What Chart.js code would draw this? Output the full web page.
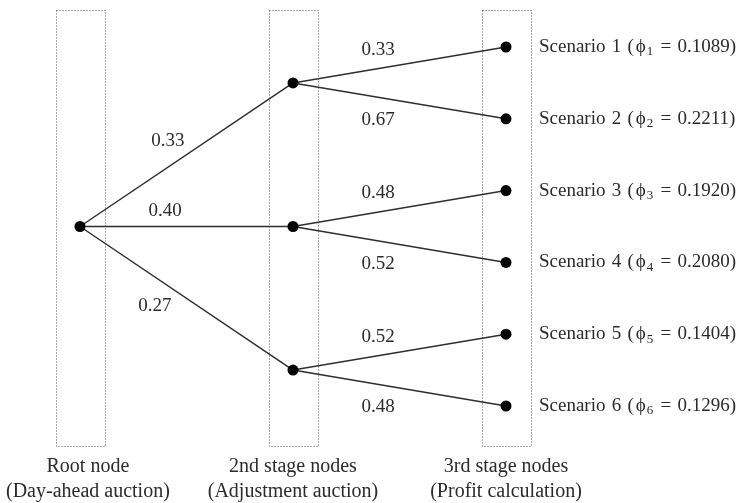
<!DOCTYPE html>
<html>
<head>
<meta charset="utf-8">
<script src="https://cdn.jsdelivr.net/npm/chart.js@4"></script>
<style>
  html, body { margin: 0; padding: 0; background: #ffffff; }
  #wrap { width: 743px; height: 503px; position: relative; }
</style>
</head>
<body>
<div id="wrap"><canvas id="c" width="743" height="503"></canvas></div>
<script>
// ---- Data ----
const stageTitles = ['Root node', '2nd stage nodes', '3rd stage nodes'];
const stageSubtitles = ['(Day-ahead auction)', '(Adjustment auction)', '(Profit calculation)'];
const rootBranchProbs = [0.33, 0.40, 0.27];
const secondBranchProbs = [[0.33, 0.67], [0.48, 0.52], [0.52, 0.48]];
const scenarioNames = ['Scenario 1', 'Scenario 2', 'Scenario 3', 'Scenario 4', 'Scenario 5', 'Scenario 6'];
const scenarioProbs = ['0.1089', '0.2211', '0.1920', '0.2080', '0.1404', '0.1296'];

// ---- Tree structure (stage index on x, slot on y) ----
const leaves = [];
const mids = [];
secondBranchProbs.forEach((kids, i) => {
  const idx = kids.map((_, j) => leaves.length + j);
  idx.forEach(k => leaves.push({ x: 2, y: k, parent: i }));
  mids.push({ x: 1, y: idx.reduce((a, b) => a + b, 0) / idx.length });
});
const root = { x: 0, y: mids.reduce((a, m) => a + m.y, 0) / mids.length };

const edges = [];
mids.forEach((m, i) => edges.push({ from: root, to: m, label: rootBranchProbs[i], level: 0, pos: i, n: mids.length }));
let li = 0;
secondBranchProbs.forEach((kids, i) => {
  kids.forEach((p, j) => { edges.push({ from: mids[i], to: leaves[li], label: p, level: 1, pos: j, n: kids.length }); li++; });
});

const lineColor = '#2e2e2e';
const textColor = '#2b2b2b';
const serif = '"Liberation Serif", "DejaVu Serif", serif';
const firstLabelT = [0.47, 0.40, 0.415];

const datasets = [];
datasets.push({
  label: 'nodes',
  data: [root, ...mids, ...leaves].map(p => ({ x: p.x, y: p.y })),
  showLine: false,
  pointRadius: 5.5,
  pointBackgroundColor: '#000',
  pointBorderColor: '#000',
  pointBorderWidth: 0,
  clip: false
});
edges.forEach(e => datasets.push({
  label: 'edge',
  data: [{ x: e.from.x, y: e.from.y }, { x: e.to.x, y: e.to.y }],
  showLine: true,
  borderColor: lineColor,
  borderWidth: 1.5,
  pointRadius: 0,
  clip: false
}));

const annot = {
  id: 'annot',
  beforeDatasetsDraw(chart) {
    const ctx = chart.ctx, xs = chart.scales.x, ys = chart.scales.y;
    const top = ys.getPixelForValue(0) - 37;
    const bottom = ys.getPixelForValue(leaves.length - 1) + 40;
    ctx.save();
    ctx.strokeStyle = '#555';
    ctx.lineWidth = 1;
    ctx.setLineDash([1, 2]);
    [0, 1, 2].forEach(s => {
      const cx = xs.getPixelForValue(s);
      ctx.strokeRect(Math.round(cx - 24.5) + 0.5, top + 0.5, 49, bottom - top);
    });
    ctx.restore();
  },
  afterDatasetsDraw(chart) {
    const ctx = chart.ctx, xs = chart.scales.x, ys = chart.scales.y;
    ctx.save();
    ctx.fillStyle = textColor;
    ctx.textBaseline = 'middle';
    ctx.textAlign = 'center';
    ctx.font = '19px ' + serif;
    // edge labels
    edges.forEach(e => {
      const x0 = xs.getPixelForValue(e.from.x), y0 = ys.getPixelForValue(e.from.y);
      const x1 = xs.getPixelForValue(e.to.x), y1 = ys.getPixelForValue(e.to.y);
      const txt = e.label.toFixed(2);
      if (e.level === 0) {
        const t = firstLabelT[e.pos];
        const bx = x0 + (x1 - x0) * t, by = y0 + (y1 - y0) * t;
        const dx = x1 - x0, dy = y1 - y0, L = Math.hypot(dx, dy);
        let nx, ny;
        const last = e.pos === e.n - 1;
        if (!last) { nx = dy / L; ny = -dx / L; } else { nx = -dy / L; ny = dx / L; }
        const d = Math.abs(dy) < 1 ? 15 : (last ? 24 : 22);
        ctx.fillText(txt, bx + nx * d, by + ny * d);
      } else {
        const t = 0.40;
        const bx = x0 + (x1 - x0) * t, by = y0 + (y1 - y0) * t;
        const off = e.pos === 0 ? -19 : 23;
        ctx.fillText(txt, bx, by + off);
      }
    });
    // scenario labels
    ctx.textAlign = 'left';
    leaves.forEach((lf, i) => {
      let x = xs.getPixelForValue(lf.x) + 33;
      const y = ys.getPixelForValue(lf.y);
      ctx.font = '19px ' + serif;
      ctx.wordSpacing = '1.5px';
      const a = scenarioNames[i] + ' (';
      ctx.fillText(a, x, y); x += ctx.measureText(a).width + 2;
      ctx.fillText('\u03D5', x, y); x += ctx.measureText('\u03D5').width + 1;
      ctx.font = '13px ' + serif;
      const sub = String(i + 1);
      ctx.fillText(sub, x, y + 5); x += ctx.measureText(sub).width + 1;
      ctx.font = '19px ' + serif;
      const b = ' = ' + scenarioProbs[i] + ')';
      ctx.fillText(b, x, y);
      ctx.wordSpacing = '0px';
    });
    // stage labels
    ctx.textAlign = 'center';
    ctx.font = '20px ' + serif;
    const base = ys.getPixelForValue(leaves.length - 1);
    const W = chart.width;
    stageTitles.forEach((t, s) => {
      const half = Math.max(ctx.measureText(t).width, ctx.measureText(stageSubtitles[s]).width) / 2;
      let cx = xs.getPixelForValue(s);
      cx = Math.min(Math.max(cx, half + 6), W - half - 6);
      ctx.fillText(t, cx, base + 61);
      ctx.fillText(stageSubtitles[s], cx, base + 86);
    });
    ctx.restore();
  }
};

new Chart(document.getElementById('c'), {
  type: 'scatter',
  data: { datasets },
  options: {
    responsive: false,
    animation: false,
    events: [],
    layout: { padding: { left: 80, right: 237, top: 47, bottom: 97 } },
    plugins: { legend: { display: false }, tooltip: { enabled: false } },
    scales: {
      x: { type: 'linear', min: 0, max: 2, display: false },
      y: { type: 'linear', min: 0, max: leaves.length - 1, reverse: true, display: false }
    }
  },
  plugins: [annot]
});
</script>
</body>
</html>
